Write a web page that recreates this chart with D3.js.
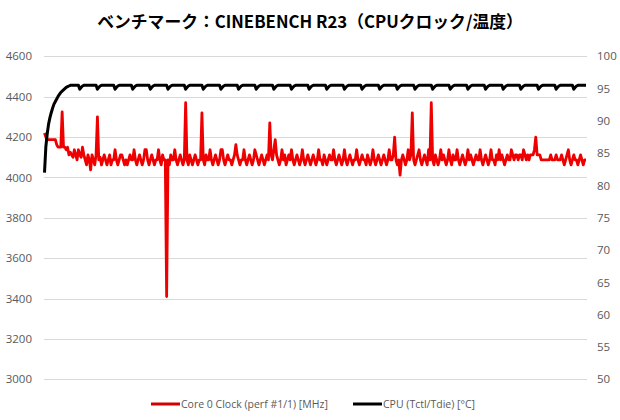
<!DOCTYPE html>
<html><head><meta charset="utf-8">
<script src="https://cdn.jsdelivr.net/npm/d3@7/dist/d3.min.js"></script>
<style>body{margin:0;background:#fff}svg{display:block}</style>
</head><body>
<svg id="c" width="620" height="420"></svg>
<script>
const title = "ベンチマーク：CINEBENCH R23（CPUクロック/温度）";
const seriesNames = ["Core 0 Clock (perf #1/1) [MHz]", "CPU (Tctl/Tdie) [°C]"];
const leftTicks = [3000,3200,3400,3600,3800,4000,4200,4400,4600];
const rightTicks = [50,55,60,65,70,75,80,85,90,95,100];
const clock = [
4220,4200,4187,4187,4187,4187,4187,4187,4187,4162,
4150,4150,4150,4325,4150,4150,4137,4150,4112,4125,
4112,4100,4137,4112,4087,4137,4112,4100,4150,4112,
4087,4062,4112,4087,4037,4112,4087,4062,4112,4300,
4087,4100,4062,4087,4112,4087,4062,4087,4112,4062,
4087,4087,4137,4087,4062,4087,4112,4112,4087,4062,
4087,4062,4087,4112,4087,4087,4137,4087,4062,4087,
4112,4087,4062,4087,4137,4137,4087,4062,4087,4112,
4087,4062,4087,4087,4137,4087,4062,4112,4087,4087,
3410,4087,4062,4112,4087,4087,4137,4087,4062,4087,
4112,4087,4062,4087,4370,4087,4062,4112,4087,4062,
4087,4112,4087,4062,4087,4087,4320,4087,4062,4112,
4087,4087,4137,4087,4062,4087,4112,4087,4062,4087,
4137,4137,4087,4062,4087,4112,4087,4087,4062,4087,
4112,4162,4112,4087,4062,4087,4087,4137,4087,4062,
4087,4112,4087,4062,4087,4137,4112,4087,4062,4087,
4112,4087,4062,4087,4112,4087,4270,4112,4087,4137,
4187,4112,4087,4062,4087,4137,4087,4112,4062,4087,
4112,4087,4137,4087,4062,4087,4112,4087,4062,4087,
4137,4087,4062,4087,4112,4087,4062,4087,4112,4087,
4062,4087,4137,4087,4087,4062,4112,4087,4062,4087,
4112,4087,4087,4137,4087,4062,4087,4112,4087,4062,
4087,4137,4087,4062,4087,4112,4087,4062,4087,4087,
4137,4087,4062,4087,4112,4087,4087,4062,4112,4087,
4062,4087,4137,4087,4062,4087,4112,4087,4062,4087,
4112,4087,4062,4087,4137,4087,4087,4112,4200,4087,
4062,4087,4012,4087,4112,4087,4062,4087,4137,4087,
4112,4320,4087,4062,4087,4112,4137,4087,4062,4087,
4112,4087,4062,4137,4087,4370,4087,4062,4112,4087,
4062,4087,4137,4087,4112,4087,4062,4087,4137,4087,
4062,4112,4087,4087,4137,4087,4062,4087,4112,4087,
4062,4087,4137,4087,4112,4087,4062,4087,4112,4087,
4087,4137,4087,4062,4087,4112,4087,4062,4087,4137,
4087,4087,4062,4112,4087,4137,4087,4112,4087,4062,
4087,4112,4087,4087,4137,4112,4087,4112,4112,4087,
4112,4112,4087,4137,4112,4087,4112,4087,4112,4112,
4112,4137,4200,4112,4112,4112,4087,4087,4087,4087,
4087,4087,4087,4112,4087,4087,4087,4112,4087,4087,
4087,4112,4087,4062,4087,4112,4137,4087,4062,4087,
4112,4087,4087,4062,4087,4112,4087,4062,4087,4087
];
const temp = [
82,86,88,89.5,90.5,91.3,92,92.6,93,93.4,93.8,94.1,94.4,94.6,94.8,95,95.2,95.3,95.4,
95.5,95.5,95.5,95.5,95.5,95.5,95.5,
94.9,95.2,95.4,95.5,95.5,95.5,95.5,95.5,95.5,95.5,95.5,95.5,95.5,
94.9,95.2,95.4,95.5,95.5,95.5,95.5,95.5,95.5,95.5,95.5,95.5,95.5,
94.9,95.2,95.4,95.5,95.5,95.5,95.5,95.5,95.5,95.5,95.5,95.5,95.5,
94.9,95.2,95.4,95.5,95.5,95.5,95.5,95.5,95.5,95.5,95.5,95.5,95.5,
94.9,95.2,95.4,95.5,95.5,95.5,95.5,95.5,95.5,95.5,95.5,95.5,95.5,
94.9,95.2,95.4,95.5,95.5,95.5,95.5,95.5,95.5,95.5,95.5,95.5,95.5,
94.9,95.2,95.4,95.5,95.5,95.5,95.5,95.5,95.5,95.5,95.5,95.5,95.5,
94.9,95.2,95.4,95.5,95.5,95.5,95.5,95.5,95.5,95.5,95.5,95.5,95.5,
94.9,95.2,95.4,95.5,95.5,95.5,95.5,95.5,95.5,95.5,95.5,95.5,95.5,
94.9,95.2,95.4,95.5,95.5,95.5,95.5,95.5,95.5,95.5,95.5,95.5,95.5,
94.9,95.2,95.4,95.5,95.5,95.5,95.5,95.5,95.5,95.5,95.5,95.5,95.5,
94.9,95.2,95.4,95.5,95.5,95.5,95.5,95.5,95.5,95.5,95.5,95.5,95.5,
94.9,95.2,95.4,95.5,95.5,95.5,95.5,95.5,95.5,95.5,95.5,95.5,95.5,
94.9,95.2,95.4,95.5,95.5,95.5,95.5,95.5,95.5,95.5,95.5,95.5,95.5,
94.9,95.2,95.4,95.5,95.5,95.5,95.5,95.5,95.5,95.5,95.5,95.5,95.5,
94.9,95.2,95.4,95.5,95.5,95.5,95.5,95.5,95.5,95.5,95.5,95.5,95.5,
94.9,95.2,95.4,95.5,95.5,95.5,95.5,95.5,95.5,95.5,95.5,95.5,95.5,
94.9,95.2,95.4,95.5,95.5,95.5,95.5,95.5,95.5,95.5,95.5,95.5,95.5,
94.9,95.2,95.4,95.5,95.5,95.5,95.5,95.5,95.5,95.5,95.5,95.5,95.5,
94.9,95.2,95.4,95.5,95.5,95.5,95.5,95.5,95.5,95.5,95.5,95.5,95.5,
94.9,95.2,95.4,95.5,95.5,95.5,95.5,95.5,95.5,95.5,95.5,95.5,95.5,
94.9,95.2,95.4,95.5,95.5,95.5,95.5,95.5,95.5,95.5,95.5,95.5,95.5,
94.9,95.2,95.4,95.5,95.5,95.5,95.5,95.5,95.5,95.5,95.5,95.5,95.5,
94.9,95.2,95.4,95.5,95.5,95.5,95.5,95.5,95.5,95.5,95.5,95.5,95.5,
94.9,95.2,95.4,95.5,95.5,95.5,95.5,95.5,95.5,95.5,95.5,95.5,95.5,
94.9,95.2,95.4,95.5,95.5,95.5,95.5,95.5,95.5,95.5,95.5,95.5,95.5,
94.9,95.2,95.4,95.5,95.5,95.5,95.5,95.5,95.5,95.5,95.5,95.5,95.5,
94.9,95.2,95.4,95.5,95.5,95.5,95.5,95.5,95.5,95.5,95.5,95.5,95.5,
94.9,95.2,95.4,95.5,95.5,95.5,95.5,95.5,95.5,95.5
];

const svg = d3.select("#c");
const L = 44, R = 587, T = 56.3, B = 379.3;
const n = Math.min(clock.length, temp.length);
const x = d3.scaleLinear().domain([0, n - 1]).range([L + 0.5, R - 1]);
const yL = d3.scaleLinear().domain([3000, 4600]).range([B, T]);
const yR = d3.scaleLinear().domain([50, 100]).range([B, T]);
const font = "'Open Sans', 'Noto Sans', sans-serif";

svg.append("text").attr("x", 310).attr("y", 28).attr("text-anchor", "middle")
  .attr("font-family", "'Noto Sans CJK JP', sans-serif").attr("font-weight", "bold")
  .attr("font-size", 16.8).attr("fill", "#000").text(title);

// grid
svg.append("g").selectAll("line").data(leftTicks).join("line")
  .attr("x1", L).attr("x2", R).attr("y1", d => Math.round(yL(d)) + 0.5).attr("y2", d => Math.round(yL(d)) + 0.5)
  .attr("stroke", "#d9d9d9").attr("stroke-width", 1);

// left axis
const gl = svg.append("g").attr("transform", `translate(${L - 10},0)`)
  .call(d3.axisLeft(yL).tickValues(leftTicks).tickFormat(d3.format("d")).tickSize(0).tickPadding(2));
gl.select(".domain").remove();
gl.selectAll("text").attr("font-family", font).attr("font-size", 11.5).attr("fill", "#595959");

// right axis
const gr = svg.append("g").attr("transform", `translate(${R + 8},0)`)
  .call(d3.axisRight(yR).tickValues(rightTicks).tickFormat(d3.format("d")).tickSize(0).tickPadding(2));
gr.select(".domain").remove();
gr.selectAll("text").attr("font-family", font).attr("font-size", 11.5).attr("fill", "#595959");

// lines
svg.append("path").datum(clock.slice(0, n))
  .attr("d", d3.line().x((d, i) => x(i)).y(d => yL(d)))
  .attr("fill", "none").attr("stroke", "#ee0000").attr("stroke-width", 2.8).attr("stroke-linejoin", "round");
svg.append("path").datum(temp.slice(0, n))
  .attr("d", d3.line().x((d, i) => x(i)).y(d => yR(d)))
  .attr("fill", "none").attr("stroke", "#000").attr("stroke-width", 3).attr("stroke-linejoin", "round");

// legend
const leg = [{name: seriesNames[0], color: "#d20000", x: 151}, {name: seriesNames[1], color: "#000", x: 353}];
const lg = svg.append("g").selectAll("g").data(leg).join("g").attr("transform", d => `translate(${d.x},404)`);
lg.append("line").attr("x1", 0).attr("x2", 29).attr("stroke", d => d.color).attr("stroke-width", 3);
lg.append("text").attr("x", 30).attr("y", 4).attr("font-family", font).attr("font-size", 10.5)
  .attr("fill", "#595959").text(d => d.name);
</script>
</body></html>
